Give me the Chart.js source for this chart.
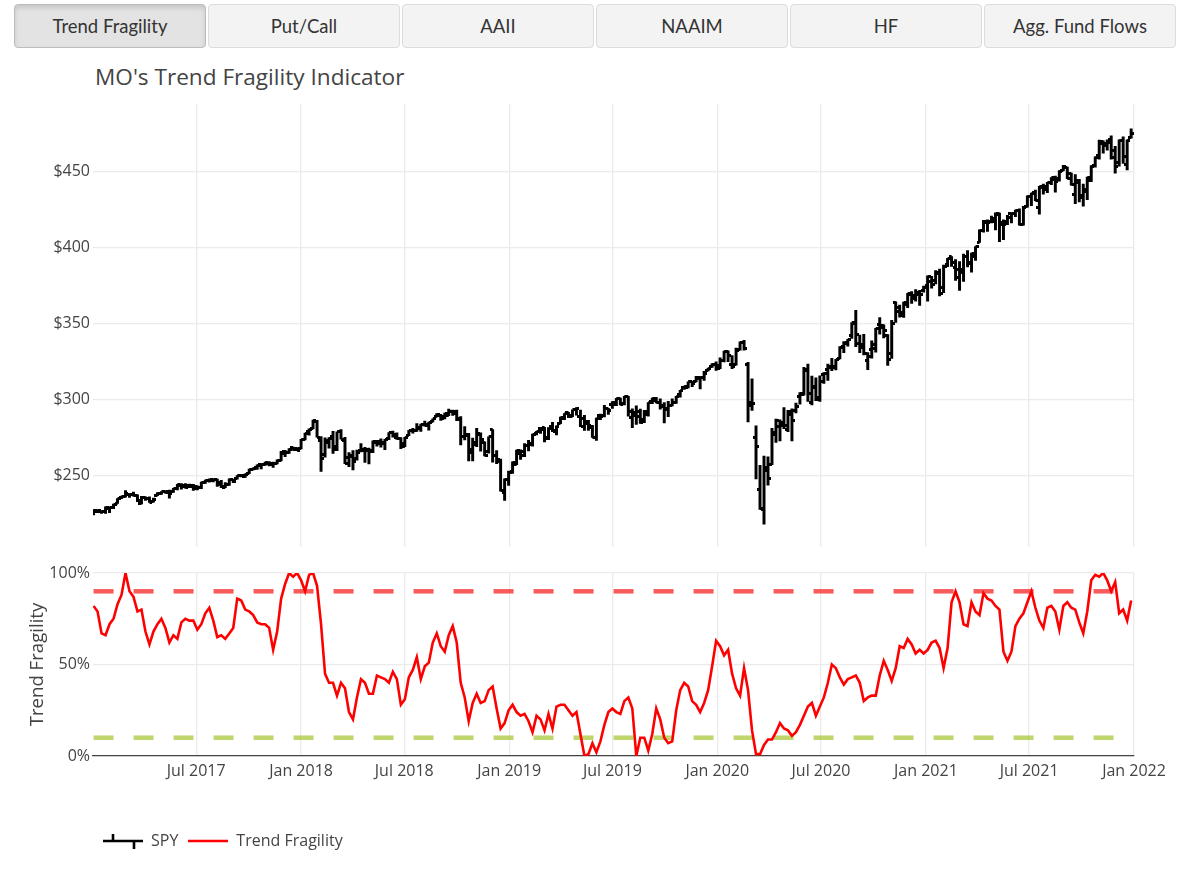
<!DOCTYPE html>
<html>
<head>
<meta charset="utf-8">
<title>MO's Trend Fragility Indicator</title>
<script src="https://cdn.jsdelivr.net/npm/chart.js@4.4.1/dist/chart.umd.min.js"></script>
<style>
  body { margin: 0; background: #fff; width: 1178px; height: 886px; position: relative; overflow: hidden; font-family: "Open Sans", sans-serif; }
  .tabs { position: absolute; left: 14px; top: 4px; width: 1162px; height: 44px; display: flex; gap: 2px; }
  .tabs button { flex: 1; height: 44px; padding: 0; border: 1px solid #dcdcdc; border-radius: 4px; background: #f3f3f3; color: #333; font-family: Lato, sans-serif; font-size: 18.5px; }
  .tabs button.activa { background: #e3e3e3; border-color: #bcbcbc; box-shadow: inset 0 3px 5px rgba(0,0,0,0.125); }
  #titulo { position: absolute; left: 95px; top: 62px; line-height: 30px; font-size: 22.6px; color: #444; }
  canvas { position: absolute; left: 0; }
  #graficoSpy { top: 92px; }
  #graficoFragilidad { top: 555px; }
</style>
</head>
<body>
<div class="tabs">
  <button class="activa">Trend Fragility</button>
  <button>Put/Call</button>
  <button>AAII</button>
  <button>NAAIM</button>
  <button>HF</button>
  <button>Agg. Fund Flows</button>
</div>
<div id="titulo">MO's Trend Fragility Indicator</div>
<canvas id="graficoSpy" width="1178" height="468"></canvas>
<canvas id="graficoFragilidad" width="1178" height="312"></canvas>

<script>
// weekly bars, one per week starting on the Monday below
const primeraSemana = "2017-01-02";

const spyOpen = [
  // 2017
  225.0,226.9,226.3,226.7,228.3,229.1,232.1,235.6,236.4,237.5,237.6,237.0,231.9,235.8,235.4,233.1,237.2,238.7,239.8,239.5,239.5,241.5,243.8,243.0,243.6,243.9,
  242.9,242.1,245.6,247.1,247.4,247.5,245.6,242.6,244.2,247.3,248.0,250.3,249.9,251.5,254.4,255.2,257.5,257.2,258.3,257.3,258.0,260.4,266.3,265.6,268.8,267.8,
  // 2018
  267.8,274.0,279.3,281.0,285.9,273.5,263.8,272.0,275.9,267.5,279.2,273.4,262.1,262.6,261.4,266.8,267.3,267.1,266.9,272.1,272.9,271.4,274.3,278.4,275.5,274.6,
  269.5,276.6,279.6,279.5,281.5,283.6,283.5,285.6,289.0,289.8,288.7,290.0,292.2,292.1,287.1,275.6,277.0,267.5,270.6,277.2,271.8,265.8,280.3,263.4,259.4,239.0,
  // 2019
  247.8,252.7,257.8,264.8,263.4,270.1,271.2,277.7,281.3,281.6,275.2,282.2,278.9,284.7,287.9,291.6,289.2,293.5,289.3,282.4,284.1,282.0,275.3,289.4,289.5,294.1,
  296.7,297.0,300.6,297.6,301.9,288.1,290.0,292.2,287.3,290.6,298.6,299.8,298.5,296.3,293.9,296.4,298.4,303.2,307.9,307.8,312.0,312.1,314.6,314.4,319.4,321.6,
  // 2020
  322.9,320.5,325.9,331.5,323.0,323.4,333.0,337.5,323.1,298.2,275.3,241.2,228.2,255.7,257.8,277.1,282.6,285.1,280.7,290.3,293.1,302.1,303.6,320.2,298.0,307.9,
  301.4,316.4,320.1,321.4,321.6,327.3,335.1,337.9,342.1,350.4,336.7,336.2,325.7,333.2,336.1,349.6,348.7,342.1,330.2,364.0,360.9,357.3,362.8,369.0,368.6,370.3,371.7,
  // 2021
  375.3,377.9,378.3,383.7,373.7,388.8,393.9,387.1,385.6,385.9,394.3,390.0,394.4,403.5,411.5,416.3,417.4,419.4,422.5,415.4,417.3,422.6,422.6,424.4,415.3,427.2,
  433.8,436.2,426.2,439.3,440.3,442.5,445.0,445.2,450.9,452.7,448.6,434.9,442.8,433.0,437.2,444.0,454.3,460.3,469.7,468.6,470.9,464.1,456.1,470.2,454.5,472.1
];
const spyHigh = [
  227.8,227.9,227.1,229.7,229.7,231.5,235.1,236.7,240.3,238.4,239.4,237.6,236.5,236.3,236.3,235.4,239.0,239.7,240.2,240.7,241.8,244.4,245.0,244.9,244.6,244.4,
  243.4,245.9,247.3,248.0,247.8,247.9,247.0,245.6,248.0,247.8,250.2,250.8,251.3,254.5,255.3,257.3,257.9,259.0,259.4,259.0,260.5,266.1,266.8,268.0,269.0,268.6,
  274.0,278.1,281.0,286.6,286.5,275.9,275.0,275.2,279.3,278.9,280.4,275.4,265.3,266.6,267.0,271.3,268.7,268.3,273.0,273.4,274.3,274.1,278.4,279.5,278.3,275.2,
  275.4,279.9,281.2,284.4,284.0,286.0,285.3,287.5,291.0,290.4,291.3,293.9,293.2,293.2,289.0,282.4,278.0,274.8,281.2,278.3,272.4,275.7,280.4,266.6,261.0,248.0,
  253.1,259.2,266.9,267.2,271.2,273.4,277.4,279.3,281.9,281.9,281.7,285.2,282.9,288.6,290.9,291.8,293.4,294.9,293.3,289.8,286.5,283.3,288.0,290.6,296.3,294.4,
  298.8,301.0,301.1,302.2,302.2,294.1,296.0,293.9,293.0,298.2,301.2,301.6,300.6,298.1,299.0,300.6,302.2,306.2,309.0,311.8,312.2,315.5,315.0,318.7,320.9,323.8,
  324.9,327.5,332.0,332.2,329.1,334.0,338.1,339.1,324.7,313.8,282.9,256.9,263.0,262.5,281.2,287.3,286.8,294.9,293.0,294.0,297.9,304.7,321.3,323.4,315.6,314.5,
  315.7,317.9,323.4,327.2,326.6,334.9,338.3,339.7,350.7,358.8,342.6,343.1,331.0,338.7,347.0,354.0,349.3,342.9,352.2,364.4,362.3,364.2,369.9,371.1,372.5,372.0,374.7,
  381.5,381.1,385.0,385.9,388.5,392.9,394.2,392.2,390.9,395.7,398.1,396.4,400.7,411.7,417.9,418.3,420.7,422.8,422.7,418.2,421.3,422.9,424.6,425.5,427.1,434.1,
  435.8,437.9,440.3,441.8,442.9,446.0,447.1,450.7,454.1,452.9,449.0,448.0,444.9,441.7,446.3,454.0,459.6,470.7,470.2,470.9,473.5,466.6,470.9,472.9,470.9,478.0
];
const spyLow = [
  224.3,225.9,225.3,225.3,225.9,228.5,231.9,235.1,236.0,235.9,236.7,233.1,231.6,233.9,232.5,232.8,237.0,237.8,238.7,235.4,239.2,240.8,241.2,242.0,242.3,240.5,
  240.8,241.6,245.1,245.9,246.1,243.0,242.3,242.2,243.8,245.6,247.9,249.3,249.0,251.4,254.0,254.3,254.6,256.8,256.6,255.6,257.8,259.9,262.6,264.7,266.7,266.6,
  267.8,273.6,276.8,280.8,275.4,252.9,262.3,268.2,264.8,266.5,274.2,258.0,256.0,253.9,260.4,265.7,258.9,257.8,265.3,269.6,268.9,267.2,273.8,275.5,274.0,267.9,
  269.2,276.5,278.1,279.2,279.2,282.6,280.0,285.4,288.8,286.5,287.5,289.5,289.8,286.3,270.4,273.6,259.9,259.9,269.2,266.3,263.1,264.9,259.0,258.0,240.0,233.8,
  243.7,251.7,257.4,260.8,262.6,266.4,269.6,277.0,277.9,272.4,273.8,279.1,277.0,284.3,286.9,288.2,288.9,289.9,282.3,279.9,279.8,275.2,273.3,286.9,288.8,290.4,
  294.3,296.2,296.7,296.7,289.3,281.7,283.8,284.4,284.9,289.3,297.5,297.9,293.9,284.8,288.9,295.9,297.6,301.8,306.9,307.8,308.6,311.8,307.1,312.8,318.9,321.3,
  319.3,320.4,324.9,325.1,320.4,322.8,332.6,332.6,285.5,293.0,248.0,228.0,218.3,243.9,257.4,272.0,273.0,281.0,279.1,272.9,291.4,297.2,303.1,299.0,296.7,299.4,
  298.9,310.7,312.8,319.2,319.6,326.8,330.9,335.2,340.3,334.9,331.0,329.5,319.8,327.3,331.3,343.1,340.6,322.6,327.2,350.9,354.3,354.2,360.6,363.3,364.8,362.0,370.8,
  364.8,373.4,376.2,368.3,370.4,387.5,387.7,378.4,371.9,377.8,387.3,383.9,391.6,403.4,410.2,410.6,416.3,411.7,404.0,405.3,415.1,416.3,420.3,414.7,414.7,426.6,
  427.5,430.9,422.0,435.1,436.1,441.3,436.4,443.7,450.5,445.3,441.0,428.9,430.0,427.2,431.5,443.4,452.8,458.2,462.0,464.1,458.1,448.9,453.6,455.3,451.1,472.0
];
const spyClose = [
  227.2,227.0,226.7,228.9,229.3,231.5,235.0,236.7,238.4,237.7,237.0,233.9,235.7,235.2,232.5,234.6,238.1,239.7,239.0,238.3,241.7,244.2,243.4,242.6,243.1,241.8,
  242.1,245.6,247.1,247.0,247.4,244.1,242.7,244.6,247.8,246.6,250.1,250.0,251.2,254.4,254.9,257.1,257.7,258.7,258.1,257.9,260.4,264.5,265.5,267.5,267.5,266.9,
  273.9,278.1,280.4,286.6,275.5,261.5,273.0,274.7,269.1,278.9,274.2,258.1,263.2,259.7,265.2,266.6,266.6,266.0,272.9,271.3,272.0,273.6,278.2,277.1,274.7,271.3,
  275.4,279.6,279.7,281.4,283.6,283.2,285.1,287.5,290.3,287.6,290.9,292.0,290.7,287.8,276.0,276.3,265.3,271.9,278.0,273.7,263.3,275.7,263.6,260.5,240.7,247.8,
  252.4,259.0,266.5,265.8,270.1,270.5,277.4,279.1,280.4,274.5,281.3,279.5,282.5,288.6,290.7,290.0,293.4,294.0,288.0,285.8,282.8,275.3,287.7,289.3,294.0,293.0,
  298.5,300.7,297.2,302.0,292.6,291.6,288.9,284.9,292.5,298.1,301.1,298.3,295.4,294.4,296.3,298.0,302.0,306.1,309.0,311.8,311.0,314.3,314.9,317.3,320.7,322.9,
  322.4,325.7,332.0,328.8,321.7,332.2,337.6,333.5,296.3,297.5,269.3,228.8,253.4,248.2,278.2,286.6,283.0,282.8,292.4,286.3,295.4,304.3,319.3,304.2,308.6,300.1,
  312.2,317.6,321.7,320.9,326.5,334.6,336.8,339.5,350.6,342.6,334.1,330.7,328.7,333.8,346.9,347.3,345.8,326.5,350.2,358.1,355.3,363.7,369.9,366.3,369.2,369.0,373.9,
  381.3,375.7,382.9,370.1,387.7,392.6,390.0,380.4,383.6,394.1,389.5,396.0,400.6,411.5,417.3,416.7,417.3,422.1,416.6,414.9,420.0,422.6,424.3,414.9,426.6,433.7,
  435.5,431.3,439.9,438.5,442.5,445.9,443.4,450.3,453.1,445.4,441.4,443.9,434.2,437.9,445.9,453.1,459.3,468.5,467.3,468.9,459.0,453.4,470.7,459.9,470.6,475.0
];

// trend fragility (%), same weeks
const trendFragility = [
  82,79,67,66,72,75,83,88,100,90,87,79,80,68,61,68,72,75,70,62,66,64,73,75,74,74,
  69,72,78,81,74,65,66,64,67,70,86,85,80,79,77,73,72,72,70,58,68,86,94,100,98,100,
  96,90,99,100,93,72,45,40,40,33,40,37,24,20,32,42,40,34,34,44,43,42,40,46,42,28,
  31,43,47,54,42,49,51,62,67,60,57,66,71,62,40,32,19,29,34,29,30,36,38,26,15,18,
  25,28,24,22,23,19,13,22,20,14,23,15,27,28,28,25,22,24,12,0,1,7,2,8,17,24,
  26,24,23,30,32,26,0,10,10,3,12,26,20,10,7,8,25,36,40,38,30,28,24,29,36,49,
  63,60,55,58,45,37,33,48,36,14,1,1,6,9,9,13,18,15,14,11,13,17,22,27,29,22,27,
  32,40,50,48,43,39,42,43,44,40,30,32,33,33,44,52,47,41,48,60,59,64,61,56,58,56,58,
  62,63,59,48,59,84,90,84,72,71,84,79,77,89,86,85,82,80,57,52,57,71,75,78,84,90,
  81,74,70,81,82,79,69,82,84,81,80,73,67,79,96,99,98,100,96,90,95,78,80,74,85
];
const nivelAlto = 90;
const nivelBajo = 10;

const fechasTicks = ["2017-07-01","2018-01-01","2018-07-01","2019-01-01","2019-07-01","2020-01-01","2020-07-01","2021-01-01","2021-07-01","2022-01-01"];
const etiquetasTicks = ["Jul 2017","Jan 2018","Jul 2018","Jan 2019","Jul 2019","Jan 2020","Jul 2020","Jan 2021","Jul 2021","Jan 2022"];
const ticksPrecio = [250, 300, 350, 400, 450];
const ticksPct = [0, 50, 100];

// x axis works in days counted from Jan 1 2017
const origen = Date.UTC(2017, 0, 1);
const diaDe = s => (Date.parse(s + "T00:00:00Z") - origen) / 864e5;
const dia0 = diaDe(primeraSemana);
const dias = spyClose.map((_, i) => dia0 + 7 * i);
const diasTicks = fechasTicks.map(diaDe);
const xMin = 0;
const xMax = diaDe("2022-01-01");

const GRIS = "#444";
const GRID = "#ebebeb";
const fuenteTicks = { family: "'Open Sans'", size: 16 };

function icono(w, h, dibujar) {
  const c = document.createElement("canvas");
  c.width = w; c.height = h;
  dibujar(c.getContext("2d"));
  return c;
}
const tickApertura = icono(6, 3, g => { g.fillStyle = "#000"; g.fillRect(0, 0, 3, 3); });
const tickCierre = icono(6, 3, g => { g.fillStyle = "#000"; g.fillRect(3, 0, 3, 3); });
const iconoSpy = icono(40, 18, g => {
  g.strokeStyle = "#000"; g.lineWidth = 2.6;
  g.beginPath();
  g.moveTo(0, 9); g.lineTo(40, 9);
  g.moveTo(10, 9); g.lineTo(10, 2);
  g.moveTo(31, 9); g.lineTo(31, 17);
  g.stroke();
});
const iconoTF = icono(40, 4, g => {
  g.strokeStyle = "red"; g.lineWidth = 2.6;
  g.beginPath(); g.moveTo(0, 2); g.lineTo(40, 2); g.stroke();
});

const anchoEjeY = s => { s.width = 93; };
const ponerTicksX = s => { s.ticks = diasTicks.map(v => ({ value: v })); };

new Chart(document.getElementById("graficoSpy"), {
  type: "bar",
  data: {
    datasets: [
      {
        type: "bar",
        label: "SPY",
        data: dias.map((d, i) => ({ x: d, y: [spyLow[i], spyHigh[i]] })),
        backgroundColor: "#000",
        barThickness: 2.3,
        order: 2
      },
      {
        type: "line",
        label: "open",
        data: dias.map((d, i) => ({ x: d, y: spyOpen[i] })),
        showLine: false,
        pointStyle: tickApertura,
        pointRadius: 2,
        order: 1
      },
      {
        type: "line",
        label: "close",
        data: dias.map((d, i) => ({ x: d, y: spyClose[i] })),
        showLine: false,
        pointStyle: tickCierre,
        pointRadius: 2,
        order: 1
      }
    ]
  },
  options: {
    responsive: false,
    animation: false,
    events: [],
    layout: { padding: { top: 2, bottom: 3, left: 0, right: 44 } },
    plugins: { legend: { display: false }, tooltip: { enabled: false } },
    scales: {
      x: {
        type: "linear", min: xMin, max: xMax, offset: false,
        afterBuildTicks: ponerTicksX,
        afterFit: s => { s.height = 0; },
        ticks: { display: false },
        grid: { color: GRID, lineWidth: 1.3, drawTicks: false, offset: false },
        border: { display: false }
      },
      y: {
        min: 203, max: 494,
        afterBuildTicks: s => { s.ticks = ticksPrecio.map(v => ({ value: v })); },
        afterFit: anchoEjeY,
        ticks: { callback: v => "$" + v, color: GRIS, font: fuenteTicks, padding: 3 },
        grid: { color: GRID, lineWidth: 1.3, drawTicks: false },
        border: { display: false }
      }
    }
  }
});

const itemsLeyenda = [
  { text: "SPY", pointStyle: iconoSpy, fillStyle: "#000", strokeStyle: "#000", lineWidth: 0, hidden: false, fontColor: GRIS, datasetIndex: 0 },
  { text: "Trend Fragility", pointStyle: iconoTF, fillStyle: "red", strokeStyle: "red", lineWidth: 0, hidden: false, fontColor: GRIS, datasetIndex: 0 }
];

const ultimo = dias.length - 1;

new Chart(document.getElementById("graficoFragilidad"), {
  type: "line",
  data: {
    datasets: [
      {
        label: "Trend Fragility",
        data: dias.map((d, i) => ({ x: d, y: trendFragility[i] })),
        borderColor: "red",
        borderWidth: 2.6,
        pointRadius: 0,
        order: 1
      },
      {
        label: "alto",
        data: [{ x: dias[0], y: nivelAlto }, { x: dias[ultimo], y: nivelAlto }],
        borderColor: "rgba(245,45,45,0.78)",
        borderDash: [20, 20],
        borderWidth: 4.5,
        pointRadius: 0,
        order: 2
      },
      {
        label: "bajo",
        data: [{ x: dias[0], y: nivelBajo }, { x: dias[ultimo], y: nivelBajo }],
        borderColor: "rgba(170,200,60,0.75)",
        borderDash: [20, 20],
        borderWidth: 4.5,
        pointRadius: 0,
        order: 2
      }
    ]
  },
  options: {
    responsive: false,
    animation: false,
    events: [],
    layout: { padding: { top: 18, bottom: 8, left: 0, right: 44 } },
    plugins: {
      tooltip: { enabled: false },
      legend: {
        position: "bottom",
        align: "start",
        fullSize: false,
        labels: {
          usePointStyle: true,
          pointStyleWidth: 40,
          padding: 10,
          color: GRIS,
          font: { family: "'Open Sans'", size: 16 },
          generateLabels: () => itemsLeyenda
        }
      }
    },
    scales: {
      x: {
        type: "linear", min: xMin, max: xMax, offset: false,
        afterBuildTicks: ponerTicksX,
        afterFit: s => { s.height = 67; },
        ticks: {
          callback: v => etiquetasTicks[diasTicks.indexOf(v)],
          color: GRIS, font: fuenteTicks, padding: 6, maxRotation: 0, autoSkip: false
        },
        grid: { color: GRID, lineWidth: 1.3, drawTicks: false },
        border: { display: true, color: GRIS, width: 1.3 }
      },
      y: {
        min: 0, max: 100,
        afterBuildTicks: s => { s.ticks = ticksPct.map(v => ({ value: v })); },
        afterFit: anchoEjeY,
        ticks: { callback: v => v + "%", color: GRIS, font: fuenteTicks, padding: 3 },
        grid: { color: GRID, lineWidth: 1.3, drawTicks: false },
        border: { display: false },
        title: {
          display: true,
          text: "Trend Fragility",
          color: GRIS,
          font: { family: "'Open Sans'", size: 18.6 },
          padding: { top: 27, bottom: 0 }
        }
      }
    }
  }
});
</script>
</body>
</html>
